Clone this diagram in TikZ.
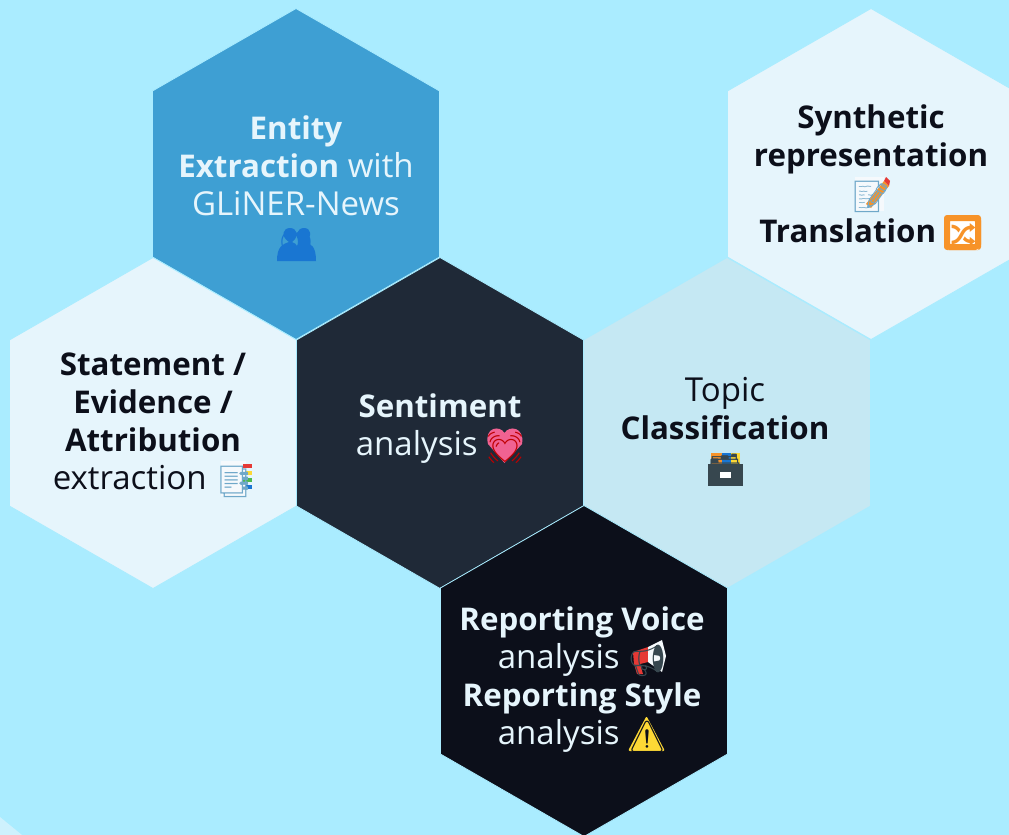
\documentclass[tikz,border=0pt]{standalone}
\usepackage{fontspec}
\setmainfont{Open Sans}
\newfontfamily\emojifont{Noto Emoji}
\definecolor{bgcol}{HTML}{AAECFF}
\definecolor{bluecol}{HTML}{3E9FD3}
\definecolor{palecol}{HTML}{E6F5FC}
\definecolor{topiccol}{HTML}{C5E8F3}
\definecolor{slatecol}{HTML}{1F2937}
\definecolor{inkcol}{HTML}{0C0F1A}
\definecolor{lighttext}{HTML}{E6F5FC}
\definecolor{emblue}{HTML}{1976D2}
\definecolor{emorange}{HTML}{F79329}
\definecolor{emyellow}{HTML}{FDD835}
\definecolor{empink}{HTML}{F06292}
\definecolor{emred}{HTML}{E53935}
\definecolor{emslate}{HTML}{37474F}
\definecolor{empaper}{HTML}{F5F9FC}
\definecolor{emline}{HTML}{6FA8C9}
\newcommand{\emo}[2]{\raisebox{-3pt}{\makebox[38pt]{\textcolor{#1}{\emojifont\fontsize{31}{38}\selectfont #2}}}}
\newcommand{\bt}[1]{{\fontsize{31.3}{38}\selectfont\textbf{#1}}}
\tikzset{
  x=1pt,y=-1pt,
  hexfill/.style={draw=bgcol,line width=0.8pt,line join=miter},
  hexlabel/.style={align=center,inner sep=0pt,font=\fontsize{33}{38}\selectfont},
  pics/hexa/.style={code={\path[hexfill,#1] (0,-165.5)--(143.6,-83)--(143.6,83)--(0,165.5)--(-143.6,83)--(-143.6,-83)--cycle;}}
}
\begin{document}
\begin{tikzpicture}
\useasboundingbox (0,0) rectangle (1009,835);
\fill[bgcol] (0,0) rectangle (1009,835);
\fill[palecol!60!bgcol] (0,817)--(22,835)--(0,835)--cycle;
\clip (0,0) rectangle (1009,835);
\pic at (871,174) {hexa={fill=palecol}};
\pic at (296,174) {hexa={fill=bluecol}};
\pic at (153,423) {hexa={fill=palecol}};
\pic at (727,423) {hexa={fill=topiccol}};
\pic at (440,423) {hexa={fill=slatecol}};
\pic at (584,671) {hexa={fill=inkcol}};
% colour under the emoji glyphs
\fill[emblue] (277,261) .. controls (277,246) and (283,244) .. (289,242) .. controls (280,236) and (283,228) .. (290,228) .. controls (297,228) and (300,236) .. (292,242) .. controls (295,243) and (296,244) .. (297,246) .. controls (298,244) and (299,243) .. (302,242) .. controls (294,236) and (297,228) .. (304,228) .. controls (311,228) and (313,236) .. (305,242) .. controls (311,244) and (316,246) .. (316,261) -- cycle;
\fill[emorange,rounded corners=3pt] (944,215) rectangle (981,250);
\fill[emyellow,rounded corners=2pt] (646.5,716)--(665,751)--(628,751)--cycle;
\fill[empaper] (855,177) rectangle (884,211);
\fill[emorange] (866,204)--(884,181)--(889,186)--(871,208)--cycle;
\fill[emred] (884,181)--(886,177)--(890,181)--(889,186)--cycle;
\fill[empaper] (221,461) rectangle (246,496);
\fill[emred] (243,464) rectangle (252,468);
\fill[emyellow] (246,471) rectangle (252,475);
\fill[green!60!black!70] (243,478) rectangle (252,482);
\fill[emblue] (246,485) rectangle (252,489);
\fill[emred] (633,652)--(648,647)--(648,662)--(640,664)--(643,674)--(637,674)--(634,664)--cycle;
\fill[empaper] (648,647)--(662,640)--(666,656)--(662,672)--(648,662)--cycle;
\fill[empink] (504.5,463)--(488,444)..controls (484,427) and (500,425) .. (504.5,433)..controls (509,425) and (525,427) .. (522,444)--cycle;
\fill[emslate] (708,464) rectangle (743,486);
\fill[emorange] (711,453) rectangle (722,464);
\fill[emblue] (722,453) rectangle (731,464);
\fill[emyellow] (731,453) rectangle (740,464);
\node[hexlabel,text=lighttext] (entity) at (296,188) {\bt{Entity}\\\bt{Extraction} with\\GLiNER-News\\\emo{emblue}{👥}};
\node[hexlabel,text=inkcol] (statement) at (153,425) {\bt{Statement /}\\\bt{Evidence /}\\\bt{Attribution}\\extraction \emo{emline}{📑}};
\node[hexlabel,text=lighttext] (sentiment) at (440,429) {\bt{Sentiment}\\analysis \emo{red!75!black}{💓}};
\node[hexlabel,text=inkcol] (topic) at (725,431) {Topic\\\bt{Classification}\\\emo{emslate}{🗃}};
\node[hexlabel,text=inkcol] (synthetic) at (871,178) {\bt{Synthetic}\\\bt{representation}\\\emo{emline}{📝}\\\bt{Translation} \emo{white}{🔀}};
\node[hexlabel,text=lighttext] (voice) at (582,680) {\bt{Reporting Voice}\\analysis \emo{emslate}{📢}\\\bt{Reporting Style}\\analysis \emo{inkcol}{⚠}};
% pieces that lie over the glyphs
\draw[emorange,line width=6pt,rounded corners=3pt] (947,218) rectangle (978,247);
\fill[white] (720,472) rectangle (731,478);
\end{tikzpicture}
\end{document}
